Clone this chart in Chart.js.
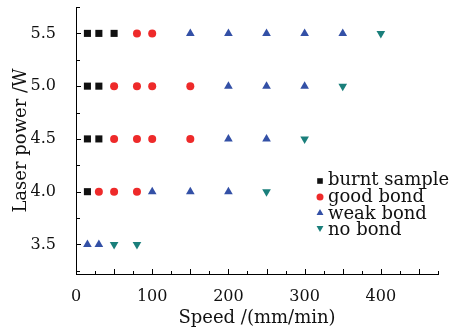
<!DOCTYPE html>
<html>
<head>
<meta charset="utf-8">
<script src="https://cdn.jsdelivr.net/npm/chart.js@4/dist/chart.umd.min.js"></script>
<style>
html,body{margin:0;padding:0;background:#fff;}
#wrap{width:462px;height:330px;}
</style>
</head>
<body>
<div id="wrap"><canvas id="c" width="462" height="330"></canvas></div>
<script>
// ---- data ----
const seriesLabels = ['burnt sample', 'good bond', 'weak bond', 'no bond'];
const burntSpeed = [15, 30, 50, 15, 30, 15, 30, 15];
const burntPower = [5.5, 5.5, 5.5, 5.0, 5.0, 4.5, 4.5, 4.0];
const goodSpeed = [80, 100, 50, 80, 100, 150, 50, 80, 100, 150, 30, 50, 80];
const goodPower = [5.5, 5.5, 5.0, 5.0, 5.0, 5.0, 4.5, 4.5, 4.5, 4.5, 4.0, 4.0, 4.0];
const weakSpeed = [150, 200, 250, 300, 350, 200, 250, 300, 200, 250, 100, 150, 200, 15, 30];
const weakPower = [5.5, 5.5, 5.5, 5.5, 5.5, 5.0, 5.0, 5.0, 4.5, 4.5, 4.0, 4.0, 4.0, 3.5, 3.5];
const noSpeed = [400, 350, 300, 250, 50, 80];
const noPower = [5.5, 5.0, 4.5, 4.0, 3.5, 3.5];
const xTickLabels = [0, 100, 200, 300, 400];
const yTickLabels = [3.5, 4.0, 4.5, 5.0, 5.5];
const xMarkTicks = [0, 25, 50, 75, 100, 125, 150, 175, 200, 225, 250, 275, 300, 325, 350, 375, 400, 425, 450, 475];
const yMarkTicks = [3.25, 3.5, 3.75, 4.0, 4.25, 4.5, 4.75, 5.0, 5.25, 5.5, 5.75];

const colors = ['#111111', '#ee2a2a', '#3350a6', '#1a7f7b'];
const styles = ['rect', 'circle', 'triangle', 'triangle'];
const rotations = [0, 0, 0, 180];
const radii = [5, 4, 5, 5];

function pts(xs, ys) { return xs.map((x, i) => ({x: x, y: ys[i]})); }
const allData = [pts(burntSpeed, burntPower), pts(goodSpeed, goodPower), pts(weakSpeed, weakPower), pts(noSpeed, noPower)];

const FONT = "'DejaVu Serif', serif";

const tickMarks = {
  id: 'tickMarks',
  afterDraw(chart) {
    const ctx = chart.ctx, xs = chart.scales.x, ys = chart.scales.y;
    const ca = chart.chartArea;
    ctx.save();
    ctx.strokeStyle = '#000';
    ctx.lineWidth = 1;
    ctx.beginPath();
    xMarkTicks.forEach(v => {
      const px = Math.round(xs.getPixelForValue(v)) + 0.5;
      const len = (v % 50 === 0) ? 5 : 3;
      ctx.moveTo(px, ca.bottom);
      ctx.lineTo(px, ca.bottom - len);
    });
    yMarkTicks.forEach(v => {
      const py = Math.round(ys.getPixelForValue(v)) + 0.5;
      const len = (Math.abs(v * 2 - Math.round(v * 2)) < 1e-6) ? 5 : 4;
      ctx.moveTo(ca.left, py);
      ctx.lineTo(ca.left + len, py);
    });
    ctx.stroke();
    ctx.restore();
  }
};

function drawMarker(ctx, style, x, y, r, rot, color) {
  ctx.fillStyle = color;
  ctx.beginPath();
  if (style === 'rect') {
    ctx.rect(x - r * 0.7, y - r * 0.7, r * 1.4, r * 1.4);
  } else if (style === 'circle') {
    ctx.arc(x, y, r, 0, Math.PI * 2);
  } else {
    const s = rot ? -1 : 1;
    ctx.moveTo(x, y - s * r);
    ctx.lineTo(x + r * 0.866, y + s * r * 0.5);
    ctx.lineTo(x - r * 0.866, y + s * r * 0.5);
    ctx.closePath();
  }
  ctx.fill();
}

const customLegend = {
  id: 'customLegend',
  afterDraw(chart) {
    const ctx = chart.ctx;
    ctx.save();
    ctx.font = '18px ' + FONT;
    ctx.textBaseline = 'alphabetic';
    ctx.textAlign = 'left';
    const baselines = [185, 202, 219, 235];
    const markerY = [181, 197, 213, 228];
    chart.data.datasets.forEach((ds, i) => {
      drawMarker(ctx, styles[i], 320, markerY[i], i === 1 ? 3.5 : 4, rotations[i], colors[i]);
      ctx.fillStyle = '#111';
      ctx.fillText(ds.label, 328, baselines[i]);
    });
    ctx.restore();
  }
};

function zeroPad(s) { s.paddingTop = 0; s.paddingBottom = 0; s.paddingLeft = 0; s.paddingRight = 0; }

new Chart(document.getElementById('c'), {
  type: 'scatter',
  data: {
    datasets: allData.map((d, i) => ({
      label: seriesLabels[i],
      data: d,
      backgroundColor: colors[i],
      borderColor: colors[i],
      borderWidth: 0,
      pointStyle: styles[i],
      pointRotation: rotations[i],
      pointRadius: radii[i],
      pointHoverRadius: radii[i]
    }))
  },
  options: {
    responsive: false,
    animation: false,
    events: [],
    layout: {padding: {top: 7, right: 24, left: 0, bottom: 0}},
    plugins: {legend: {display: false}, tooltip: {enabled: false}},
    scales: {
      x: {
        type: 'linear', min: 0, max: 475,
        grid: {display: false},
        border: {display: true, color: '#000', width: 1},
        afterBuildTicks: s => { s.ticks = xTickLabels.map(v => ({value: v})); },
        afterFit: s => { s.height = 56; zeroPad(s); },
        ticks: {color: '#111', font: {family: FONT, size: 16}, padding: 5, maxRotation: 0, autoSkip: false},
        title: {display: true, text: 'Speed /(mm/min)', color: '#111', font: {family: FONT, size: 18}, padding: {top: 0, bottom: 1}}
      },
      y: {
        type: 'linear', min: 3.22, max: 5.75,
        grid: {display: false},
        border: {display: true, color: '#000', width: 1},
        afterBuildTicks: s => { s.ticks = yTickLabels.map(v => ({value: v})); },
        afterFit: s => { s.width = 76; zeroPad(s); },
        ticks: {color: '#111', font: {family: FONT, size: 16}, padding: 12, callback: v => Number(v).toFixed(1)},
        title: {display: true, text: 'Laser power /W', color: '#111', font: {family: FONT, size: 18}, padding: {top: 11, bottom: 0}}
      }
    }
  },
  plugins: [tickMarks, customLegend]
});
</script>
</body>
</html>
